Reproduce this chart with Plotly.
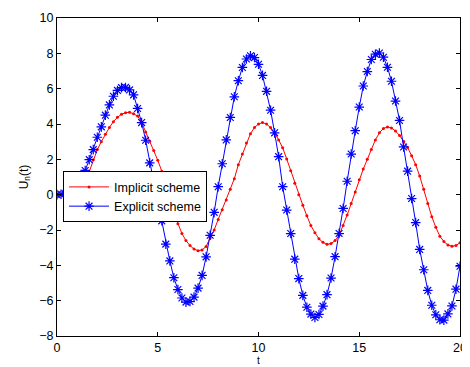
import plotly.graph_objects as go

t = [round(0.2 * i, 1) for i in range(101)]

explicit = [
    0.00, 0.02, 0.06, 0.14, 0.28, 0.48, 0.80, 1.37, 1.98, 2.55,
    3.25, 3.84, 4.50, 5.08, 5.57, 5.90, 6.06, 6.07, 5.93, 5.65,
    4.88, 4.08, 3.08, 1.80, 0.72, -0.37, -1.48, -2.80, -3.75, -4.70,
    -5.37, -5.85, -6.08, -6.05, -5.80, -5.29, -4.57, -3.52, -2.30, -1.00,
    0.45, 1.75, 3.10, 4.37, 5.54, 6.45, 7.20, 7.68, 7.86, 7.76,
    7.38, 6.75, 5.85, 4.78, 3.50, 2.15, 0.45, -0.87, -2.20, -3.65,
    -4.75, -5.70, -6.37, -6.76, -6.95, -6.78, -6.31, -5.66, -4.72, -3.51,
    -2.20, -0.78, 0.76, 2.30, 3.62, 4.96, 6.15, 6.97, 7.65, 7.95,
    8.02, 7.78, 7.21, 6.42, 5.30, 4.20, 2.70, 1.33, -0.22, -1.58,
    -3.10, -4.25, -5.42, -6.26, -6.80, -7.08, -7.10, -6.75, -6.30, -5.35,
    -4.05,
]

implicit = [
    0.00, 0.00, 0.01, 0.04, 0.10, 0.22, 0.42, 0.72, 1.30, 1.98,
    2.55, 3.00, 3.42, 3.80, 4.13, 4.38, 4.55, 4.64, 4.66, 4.58,
    4.45, 4.10, 3.55, 3.02, 2.50, 1.95, 1.33, 0.60, -0.15, -1.05,
    -1.65, -2.20, -2.60, -2.88, -3.08, -3.17, -3.13, -2.93, -2.45, -2.00,
    -1.40, -0.85, -0.30, 0.30, 0.90, 1.70, 2.30, 2.92, 3.45, 3.80,
    4.00, 4.08, 4.00, 3.80, 3.50, 3.10, 2.65, 2.02, 1.35, 0.65,
    0.00, -0.60, -1.20, -1.75, -2.15, -2.50, -2.70, -2.81, -2.77, -2.60,
    -2.30, -1.75, -1.15, -0.50, 0.15, 0.85, 1.45, 2.00, 2.55, 3.10,
    3.50, 3.75, 3.83, 3.78, 3.60, 3.35, 3.02, 2.67, 2.20, 1.70,
    1.05, 0.30, -0.50, -1.25, -1.85, -2.35, -2.65, -2.85, -2.92, -2.88,
    -2.72,
]

x_ticks = [0, 5, 10, 15, 20]
y_ticks = [-8, -6, -4, -2, 0, 2, 4, 6, 8, 10]

FONT = "Liberation Sans, Arial, Helvetica, sans-serif"

fig = go.Figure()
fig.add_trace(go.Scatter(
    x=t, y=implicit, mode="lines+markers", name="Implicit scheme",
    line=dict(color="rgb(255,0,0)", width=1),
    marker=dict(symbol="circle", size=3, color="rgb(255,0,0)"),
))
fig.add_trace(go.Scatter(
    x=t, y=explicit, mode="lines+markers", name="Explicit scheme",
    line=dict(color="rgb(0,0,255)", width=1),
    marker=dict(symbol="asterisk-open", size=8,
                line=dict(color="rgb(0,0,255)", width=1.2)),
))

axis_common = dict(
    showline=True, linecolor="black", linewidth=1, mirror="allticks",
    ticks="inside", ticklen=4, tickcolor="black", showgrid=False,
    zeroline=False, tickfont=dict(family=FONT, size=12.5, color="black"),
    ticklabeloverflow="allow",
)

fig.update_layout(
    width=462, height=359,
    margin=dict(l=49, r=3, t=7, b=29),
    paper_bgcolor="white", plot_bgcolor="white",
    font=dict(family=FONT, size=12.5, color="black"),
    xaxis=dict(range=[0, 20], tickvals=x_ticks, ticktext=[str(v) for v in x_ticks],
               title=dict(text="t", standoff=2, font=dict(size=10)), **axis_common),
    yaxis=dict(range=[-8, 10], tickvals=y_ticks,
               ticktext=[("\u2212" + str(-v)) if v < 0 else str(v) for v in y_ticks],
               title=dict(text="U<sub>n</sub>(t)", standoff=8, font=dict(size=12)), **axis_common),
    legend=dict(x=0.015, y=0.518, xanchor="left", yanchor="top",
                bgcolor="white", bordercolor="black", borderwidth=1,
                font=dict(size=12.5), tracegroupgap=0, itemwidth=40),
    showlegend=True,
)

fig.write_html("out.html")
